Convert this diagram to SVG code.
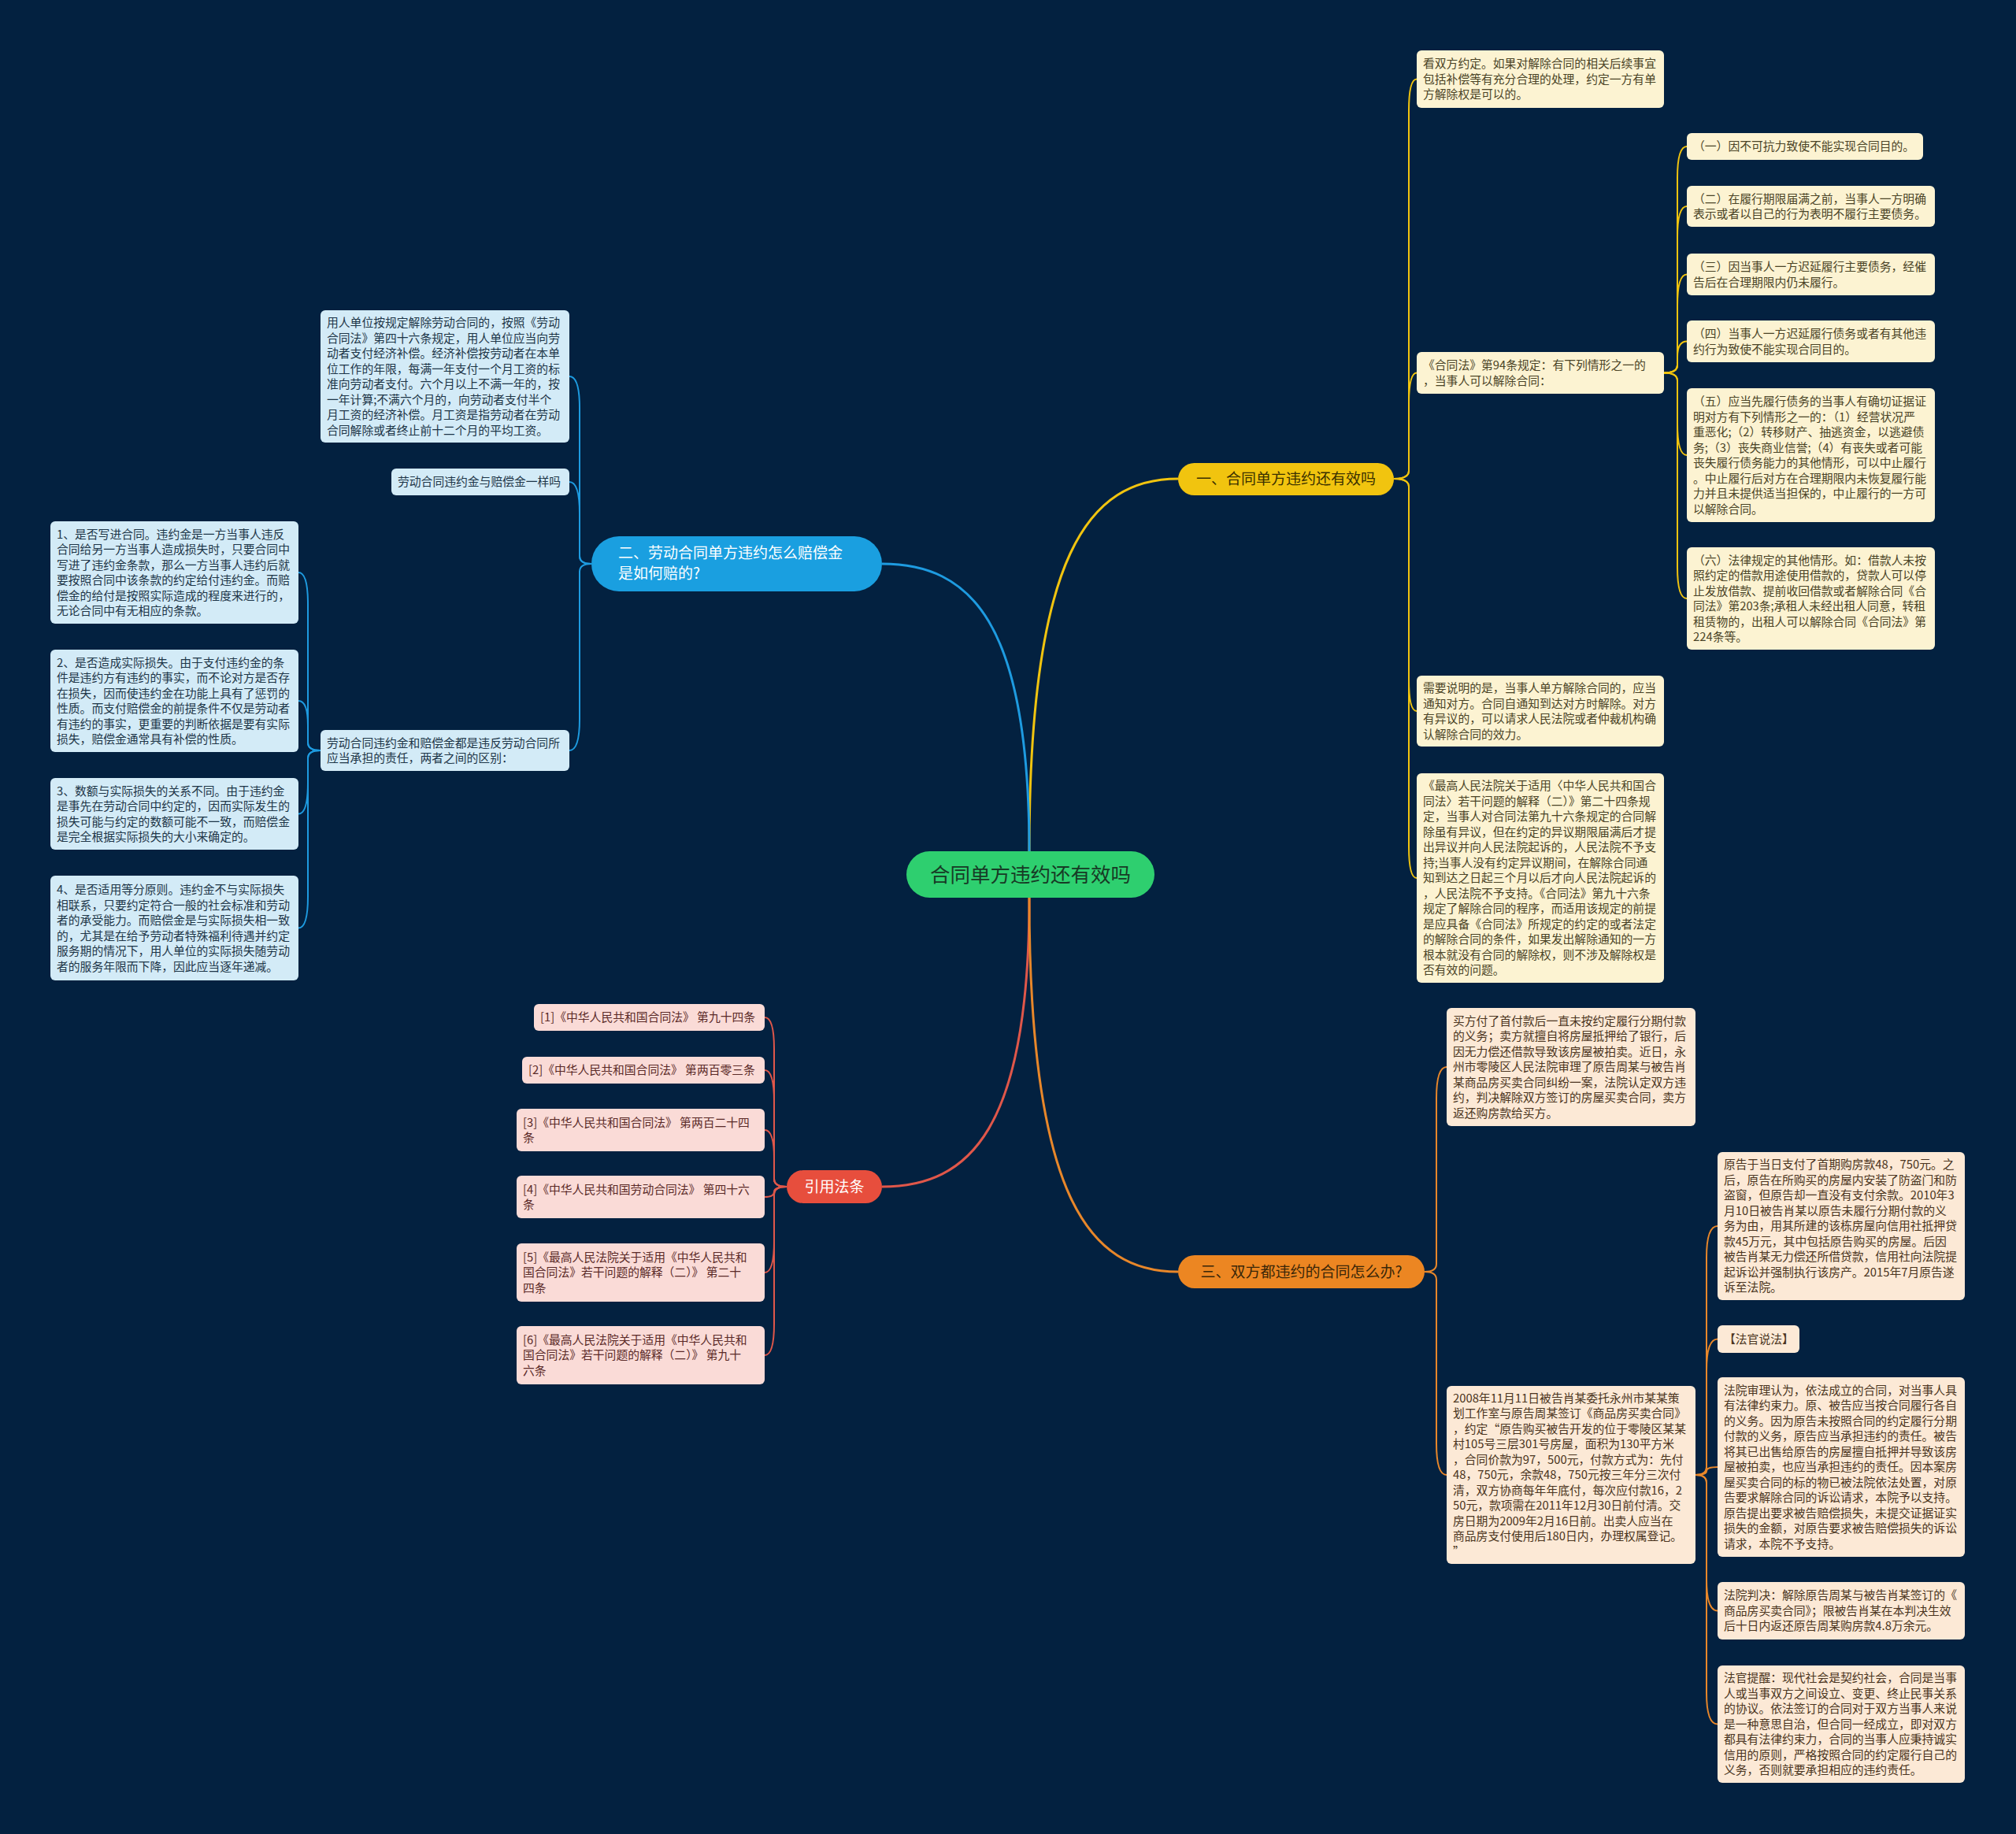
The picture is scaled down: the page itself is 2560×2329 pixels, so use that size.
<svg xmlns="http://www.w3.org/2000/svg" width="2560" height="2329" viewBox="0 0 2560 2329">
<style>
text{font-family:"Noto Sans CJK SC","Noto Sans",sans-serif}
.t{font-size:14.8px}
.ty{fill:#4a4326}.tb{fill:#1d3547}.tr{fill:#5a2a28}.to{fill:#4a3420}
.by{fill:#fcf3d2}.bb{fill:#d3ebf7}.br{fill:#fadbd7}.bo{fill:#fce9d6}
.cy{fill:none;stroke:#f1c40f;stroke-width:2}
.cb{fill:none;stroke:#1e9be0;stroke-width:2}
.cr{fill:none;stroke:#e0574a;stroke-width:2}
.co{fill:none;stroke:#e8872a;stroke-width:2}
.main{stroke-width:3}
.pt{font-size:19px}
</style>
<rect x="0" y="0" width="2560" height="2329" fill="#032140"/>
<g id="connectors">
<path class="cy main" d="M 1307 1081 C 1307 703, 1383 608, 1496 608"/>
<path class="cb main" d="M 1307 1081 C 1307 789, 1232 716, 1120 716"/>
<path class="cr main" d="M 1307 1140 C 1307 1433, 1232 1507, 1120 1507"/>
<path class="co main" d="M 1307 1140 C 1307 1520, 1383 1615, 1496 1615"/>
<path class="cy" d="M 1770 608 Q 1789 608 1789 598 V 140.5 Q 1789 100.5 1799 100.5"/>
<path class="cy" d="M 1770 608 Q 1789 608 1789 598 V 513.5 Q 1789 473.5 1799 473.5"/>
<path class="cy" d="M 1770 608 Q 1789 608 1789 618 V 863 Q 1789 903 1799 903"/>
<path class="cy" d="M 1770 608 Q 1789 608 1789 618 V 1075 Q 1789 1115 1799 1115"/>
<path class="cy" d="M 2113 473.5 Q 2130 473.5 2130 463.5 V 226 Q 2130 186 2142 186"/>
<path class="cy" d="M 2113 473.5 Q 2130 473.5 2130 463.5 V 302 Q 2130 262 2142 262"/>
<path class="cy" d="M 2113 473.5 Q 2130 473.5 2130 463.5 V 388.5 Q 2130 348.5 2142 348.5"/>
<path class="cy" d="M 2113 473.5 Q 2130 473.5 2130 463.5 V 453.5 Q 2130 433.5 2142 433.5"/>
<path class="cy" d="M 2113 473.5 Q 2130 473.5 2130 483.5 V 538 Q 2130 578 2142 578"/>
<path class="cy" d="M 2113 473.5 Q 2130 473.5 2130 483.5 V 720 Q 2130 760 2142 760"/>
<path class="cb" d="M 751 716 Q 736 716 736 706 V 518 Q 736 478 723 478"/>
<path class="cb" d="M 751 716 Q 736 716 736 706 V 652 Q 736 612 723 612"/>
<path class="cb" d="M 751 716 Q 736 716 736 726 V 913 Q 736 953 723 953"/>
<path class="cb" d="M 407 953 Q 391 953 391 943 V 767 Q 391 727 379 727"/>
<path class="cb" d="M 407 953 Q 391 953 391 943 V 921.5 Q 391 890 379 890"/>
<path class="cb" d="M 407 953 Q 391 953 391 963 V 993.5 Q 391 1033.5 379 1033.5"/>
<path class="cb" d="M 407 953 Q 391 953 391 963 V 1138.5 Q 391 1178.5 379 1178.5"/>
<path class="cr" d="M 999 1507 Q 983 1507 983 1497 V 1332 Q 983 1292 971 1292"/>
<path class="cr" d="M 999 1507 Q 983 1507 983 1497 V 1399 Q 983 1359 971 1359"/>
<path class="cr" d="M 999 1507 Q 983 1507 983 1497 V 1471 Q 983 1435 971 1435"/>
<path class="cr" d="M 999 1507 Q 983 1507 983 1513.5 Q 983 1520 971 1520"/>
<path class="cr" d="M 999 1507 Q 983 1507 983 1517 V 1576 Q 983 1616 971 1616"/>
<path class="cr" d="M 999 1507 Q 983 1507 983 1517 V 1681 Q 983 1721 971 1721"/>
<path class="co" d="M 1809 1615 Q 1824 1615 1824 1605 V 1395 Q 1824 1355 1837 1355"/>
<path class="co" d="M 1809 1615 Q 1824 1615 1824 1625 V 1833 Q 1824 1873 1837 1873"/>
<path class="co" d="M 2153 1873 Q 2167 1873 2167 1863 V 1597 Q 2167 1557 2181 1557"/>
<path class="co" d="M 2153 1873 Q 2167 1873 2167 1863 V 1740.5 Q 2167 1700.5 2181 1700.5"/>
<path class="co" d="M 2153 1873 Q 2167 1873 2167 1868 Q 2167 1863 2181 1863"/>
<path class="co" d="M 2153 1873 Q 2167 1873 2167 1883 V 2005.5 Q 2167 2045.5 2181 2045.5"/>
<path class="co" d="M 2153 1873 Q 2167 1873 2167 1883 V 2149.5 Q 2167 2189.5 2181 2189.5"/>
</g>

<g id="root">
<rect x="1151" y="1081" width="315" height="59" rx="29.5" fill="#2ecf6f"/>
<text x="1308.5" y="1119.5" font-size="25.5" text-anchor="middle" fill="#173a25">合同单方违约还有效吗</text>
</g>

<g id="branch1">
<rect x="1496" y="588" width="274" height="41" rx="20.5" fill="#f1c40f"/>
<text class="pt" x="1633" y="615" text-anchor="middle" fill="#3a3000">一、合同单方违约还有效吗</text>
</g>
<g id="branch2">
<rect x="751" y="681" width="369" height="70" rx="35" fill="#1a9fe0"/>
<text class="pt" x="785" y="709" fill="#ffffff"><tspan x="785">二、劳动合同单方违约怎么赔偿金</tspan><tspan x="785" dy="26">是如何赔的?</tspan></text>
</g>
<g id="branch3">
<rect x="1496" y="1594" width="313" height="42" rx="21" fill="#ec8622"/>
<text class="pt" x="1652.5" y="1622" text-anchor="middle" fill="#3a2608">三、双方都违约的合同怎么办?</text>
</g>
<g id="branch4">
<rect x="999" y="1486" width="121" height="42" rx="21" fill="#e74e3d"/>
<text class="pt" x="1059.5" y="1514" text-anchor="middle" fill="#ffffff">引用法条</text>
</g>

<g id="c1"><rect class="by" x="1799" y="64" width="314" height="73" rx="6"/>
<text class="t ty" y="86.2"><tspan x="1807">看双方约定。如果对解除合同的相关后续事宜</tspan><tspan x="1807" dy="19.5">包括补偿等有充分合理的处理，约定一方有单</tspan><tspan x="1807" dy="19.5">方解除权是可以的。</tspan></text></g>
<g id="c2"><rect class="by" x="1799" y="447" width="314" height="53" rx="6"/>
<text class="t ty" y="469"><tspan x="1807">《合同法》第94条规定：有下列情形之一的</tspan><tspan x="1807" dy="19.5">，当事人可以解除合同：</tspan></text></g>
<g id="c3"><rect class="by" x="1799" y="858" width="314" height="90" rx="6"/>
<text class="t ty" y="879"><tspan x="1807">需要说明的是，当事人单方解除合同的，应当</tspan><tspan x="1807" dy="19.5">通知对方。合同自通知到达对方时解除。对方</tspan><tspan x="1807" dy="19.5">有异议的，可以请求人民法院或者仲裁机构确</tspan><tspan x="1807" dy="19.5">认解除合同的效力。</tspan></text></g>
<g id="c4"><rect class="by" x="1799" y="982" width="314" height="266" rx="6"/>
<text class="t ty" y="1003.2"><tspan x="1807">《最高人民法院关于适用〈中华人民共和国合</tspan><tspan x="1807" dy="19.5">同法〉若干问题的解释（二）》第二十四条规</tspan><tspan x="1807" dy="19.5">定，当事人对合同法第九十六条规定的合同解</tspan><tspan x="1807" dy="19.5">除虽有异议，但在约定的异议期限届满后才提</tspan><tspan x="1807" dy="19.5">出异议并向人民法院起诉的，人民法院不予支</tspan><tspan x="1807" dy="19.5">持;当事人没有约定异议期间，在解除合同通</tspan><tspan x="1807" dy="19.5">知到达之日起三个月以后才向人民法院起诉的</tspan><tspan x="1807" dy="19.5">，人民法院不予支持。《合同法》第九十六条</tspan><tspan x="1807" dy="19.5">规定了解除合同的程序，而适用该规定的前提</tspan><tspan x="1807" dy="19.5">是应具备《合同法》所规定的约定的或者法定</tspan><tspan x="1807" dy="19.5">的解除合同的条件，如果发出解除通知的一方</tspan><tspan x="1807" dy="19.5">根本就没有合同的解除权，则不涉及解除权是</tspan><tspan x="1807" dy="19.5">否有效的问题。</tspan></text></g>

<g id="s1"><rect class="by" x="2142" y="169" width="300" height="34" rx="6"/>
<text class="t ty" y="191.2"><tspan x="2150">（一）因不可抗力致使不能实现合同目的。</tspan></text></g>
<g id="s2"><rect class="by" x="2142" y="236" width="315" height="52" rx="6"/>
<text class="t ty" y="257.5"><tspan x="2150">（二）在履行期限届满之前，当事人一方明确</tspan><tspan x="2150" dy="19.5">表示或者以自己的行为表明不履行主要债务。</tspan></text></g>
<g id="s3"><rect class="by" x="2142" y="322" width="315" height="53" rx="6"/>
<text class="t ty" y="344"><tspan x="2150">（三）因当事人一方迟延履行主要债务，经催</tspan><tspan x="2150" dy="19.5">告后在合理期限内仍未履行。</tspan></text></g>
<g id="s4"><rect class="by" x="2142" y="407" width="315" height="53" rx="6"/>
<text class="t ty" y="429"><tspan x="2150">（四）当事人一方迟延履行债务或者有其他违</tspan><tspan x="2150" dy="19.5">约行为致使不能实现合同目的。</tspan></text></g>
<g id="s5"><rect class="by" x="2142" y="493" width="315" height="170" rx="6"/>
<text class="t ty" y="515"><tspan x="2150">（五）应当先履行债务的当事人有确切证据证</tspan><tspan x="2150" dy="19.5">明对方有下列情形之一的：（1）经营状况严</tspan><tspan x="2150" dy="19.5">重恶化;（2）转移财产、抽逃资金，以逃避债</tspan><tspan x="2150" dy="19.5">务;（3）丧失商业信誉;（4）有丧失或者可能</tspan><tspan x="2150" dy="19.5">丧失履行债务能力的其他情形，可以中止履行</tspan><tspan x="2150" dy="19.5">。中止履行后对方在合理期限内未恢复履行能</tspan><tspan x="2150" dy="19.5">力并且未提供适当担保的，中止履行的一方可</tspan><tspan x="2150" dy="19.5">以解除合同。</tspan></text></g>
<g id="s6"><rect class="by" x="2142" y="695" width="315" height="130" rx="6"/>
<text class="t ty" y="716.5"><tspan x="2150">（六）法律规定的其他情形。如：借款人未按</tspan><tspan x="2150" dy="19.5">照约定的借款用途使用借款的，贷款人可以停</tspan><tspan x="2150" dy="19.5">止发放借款、提前收回借款或者解除合同《合</tspan><tspan x="2150" dy="19.5">同法》第203条;承租人未经出租人同意，转租</tspan><tspan x="2150" dy="19.5">租赁物的，出租人可以解除合同《合同法》第</tspan><tspan x="2150" dy="19.5">224条等。</tspan></text></g>

<g id="b1"><rect class="bb" x="407" y="394" width="316" height="168" rx="6"/>
<text class="t tb" y="415"><tspan x="415">用人单位按规定解除劳动合同的，按照《劳动</tspan><tspan x="415" dy="19.5">合同法》第四十六条规定，用人单位应当向劳</tspan><tspan x="415" dy="19.5">动者支付经济补偿。经济补偿按劳动者在本单</tspan><tspan x="415" dy="19.5">位工作的年限，每满一年支付一个月工资的标</tspan><tspan x="415" dy="19.5">准向劳动者支付。六个月以上不满一年的，按</tspan><tspan x="415" dy="19.5">一年计算;不满六个月的，向劳动者支付半个</tspan><tspan x="415" dy="19.5">月工资的经济补偿。月工资是指劳动者在劳动</tspan><tspan x="415" dy="19.5">合同解除或者终止前十二个月的平均工资。</tspan></text></g>
<g id="b2"><rect class="bb" x="497" y="595" width="226" height="34" rx="6"/>
<text class="t tb" y="617.2"><tspan x="505">劳动合同违约金与赔偿金一样吗</tspan></text></g>
<g id="b3"><rect class="bb" x="407" y="927" width="316" height="52" rx="6"/>
<text class="t tb" y="948.5"><tspan x="415">劳动合同违约金和赔偿金都是违反劳动合同所</tspan><tspan x="415" dy="19.5">应当承担的责任，两者之间的区别：</tspan></text></g>

<g id="n1"><rect class="bb" x="64" y="662" width="315" height="130" rx="6"/>
<text class="t tb" y="683.5"><tspan x="72">1、是否写进合同。违约金是一方当事人违反</tspan><tspan x="72" dy="19.5">合同给另一方当事人造成损失时，只要合同中</tspan><tspan x="72" dy="19.5">写进了违约金条款，那么一方当事人违约后就</tspan><tspan x="72" dy="19.5">要按照合同中该条款的约定给付违约金。而赔</tspan><tspan x="72" dy="19.5">偿金的给付是按照实际造成的程度来进行的，</tspan><tspan x="72" dy="19.5">无论合同中有无相应的条款。</tspan></text></g>
<g id="n2"><rect class="bb" x="64" y="825" width="315" height="130" rx="6"/>
<text class="t tb" y="846.5"><tspan x="72">2、是否造成实际损失。由于支付违约金的条</tspan><tspan x="72" dy="19.5">件是违约方有违约的事实，而不论对方是否存</tspan><tspan x="72" dy="19.5">在损失，因而使违约金在功能上具有了惩罚的</tspan><tspan x="72" dy="19.5">性质。而支付赔偿金的前提条件不仅是劳动者</tspan><tspan x="72" dy="19.5">有违约的事实，更重要的判断依据是要有实际</tspan><tspan x="72" dy="19.5">损失，赔偿金通常具有补偿的性质。</tspan></text></g>
<g id="n3"><rect class="bb" x="64" y="988" width="315" height="91" rx="6"/>
<text class="t tb" y="1009.5"><tspan x="72">3、数额与实际损失的关系不同。由于违约金</tspan><tspan x="72" dy="19.5">是事先在劳动合同中约定的，因而实际发生的</tspan><tspan x="72" dy="19.5">损失可能与约定的数额可能不一致，而赔偿金</tspan><tspan x="72" dy="19.5">是完全根据实际损失的大小来确定的。</tspan></text></g>
<g id="n4"><rect class="bb" x="64" y="1112" width="315" height="133" rx="6"/>
<text class="t tb" y="1135"><tspan x="72">4、是否适用等分原则。违约金不与实际损失</tspan><tspan x="72" dy="19.5">相联系，只要约定符合一般的社会标准和劳动</tspan><tspan x="72" dy="19.5">者的承受能力。而赔偿金是与实际损失相一致</tspan><tspan x="72" dy="19.5">的，尤其是在给予劳动者特殊福利待遇并约定</tspan><tspan x="72" dy="19.5">服务期的情况下，用人单位的实际损失随劳动</tspan><tspan x="72" dy="19.5">者的服务年限而下降，因此应当逐年递减。</tspan></text></g>

<g id="r1"><rect class="br" x="678" y="1275" width="293" height="34" rx="6"/>
<text class="t tr" y="1297.2"><tspan x="686">[1]《中华人民共和国合同法》 第九十四条</tspan></text></g>
<g id="r2"><rect class="br" x="663" y="1342" width="308" height="34" rx="6"/>
<text class="t tr" y="1364.2"><tspan x="671">[2]《中华人民共和国合同法》 第两百零三条</tspan></text></g>
<g id="r3"><rect class="br" x="656" y="1408" width="315" height="54" rx="6"/>
<text class="t tr" y="1430.5"><tspan x="664">[3]《中华人民共和国合同法》 第两百二十四</tspan><tspan x="664" dy="19.5">条</tspan></text></g>
<g id="r4"><rect class="br" x="656" y="1493" width="315" height="54" rx="6"/>
<text class="t tr" y="1515.5"><tspan x="664">[4]《中华人民共和国劳动合同法》 第四十六</tspan><tspan x="664" dy="19.5">条</tspan></text></g>
<g id="r5"><rect class="br" x="656" y="1579" width="315" height="74" rx="6"/>
<text class="t tr" y="1601.7"><tspan x="664">[5]《最高人民法院关于适用《中华人民共和</tspan><tspan x="664" dy="19.5">国合同法》若干问题的解释（二）》 第二十</tspan><tspan x="664" dy="19.5">四条</tspan></text></g>
<g id="r6"><rect class="br" x="656" y="1684" width="315" height="74" rx="6"/>
<text class="t tr" y="1706.7"><tspan x="664">[6]《最高人民法院关于适用《中华人民共和</tspan><tspan x="664" dy="19.5">国合同法》若干问题的解释（二）》 第九十</tspan><tspan x="664" dy="19.5">六条</tspan></text></g>

<g id="o1"><rect class="bo" x="1837" y="1280" width="316" height="150" rx="6"/>
<text class="t to" y="1301.7"><tspan x="1845">买方付了首付款后一直未按约定履行分期付款</tspan><tspan x="1845" dy="19.5">的义务；卖方就擅自将房屋抵押给了银行，后</tspan><tspan x="1845" dy="19.5">因无力偿还借款导致该房屋被拍卖。近日，永</tspan><tspan x="1845" dy="19.5">州市零陵区人民法院审理了原告周某与被告肖</tspan><tspan x="1845" dy="19.5">某商品房买卖合同纠纷一案，法院认定双方违</tspan><tspan x="1845" dy="19.5">约，判决解除双方签订的房屋买卖合同，卖方</tspan><tspan x="1845" dy="19.5">返还购房款给买方。</tspan></text></g>
<g id="o2"><rect class="bo" x="1837" y="1760" width="316" height="226" rx="6"/>
<text class="t to" y="1780.7"><tspan x="1845">2008年11月11日被告肖某委托永州市某某策</tspan><tspan x="1845" dy="19.5">划工作室与原告周某签订《商品房买卖合同》</tspan><tspan x="1845" dy="19.5">，约定“原告购买被告开发的位于零陵区某某</tspan><tspan x="1845" dy="19.5">村105号三层301号房屋，面积为130平方米</tspan><tspan x="1845" dy="19.5">，合同价款为97，500元，付款方式为：先付</tspan><tspan x="1845" dy="19.5">48，750元，余款48，750元按三年分三次付</tspan><tspan x="1845" dy="19.5">清，双方协商每年年底付，每次应付款16，2</tspan><tspan x="1845" dy="19.5">50元，款项需在2011年12月30日前付清。交</tspan><tspan x="1845" dy="19.5">房日期为2009年2月16日前。出卖人应当在</tspan><tspan x="1845" dy="19.5">商品房支付使用后180日内，办理权属登记。</tspan><tspan x="1845" dy="19.5">”</tspan></text></g>

<g id="p1"><rect class="bo" x="2181" y="1463" width="314" height="188" rx="6"/>
<text class="t to" y="1484.2"><tspan x="2189">原告于当日支付了首期购房款48，750元。之</tspan><tspan x="2189" dy="19.5">后，原告在所购买的房屋内安装了防盗门和防</tspan><tspan x="2189" dy="19.5">盗窗，但原告却一直没有支付余款。2010年3</tspan><tspan x="2189" dy="19.5">月10日被告肖某以原告未履行分期付款的义</tspan><tspan x="2189" dy="19.5">务为由，用其所建的该栋房屋向信用社抵押贷</tspan><tspan x="2189" dy="19.5">款45万元，其中包括原告购买的房屋。后因</tspan><tspan x="2189" dy="19.5">被告肖某无力偿还所借贷款，信用社向法院提</tspan><tspan x="2189" dy="19.5">起诉讼并强制执行该房产。2015年7月原告遂</tspan><tspan x="2189" dy="19.5">诉至法院。</tspan></text></g>
<g id="p2"><rect class="bo" x="2181" y="1683" width="104" height="35" rx="6"/>
<text class="t to" y="1705.7"><tspan x="2189">【法官说法】</tspan></text></g>
<g id="p3"><rect class="bo" x="2181" y="1749" width="314" height="228" rx="6"/>
<text class="t to" y="1770.7"><tspan x="2189">法院审理认为，依法成立的合同，对当事人具</tspan><tspan x="2189" dy="19.5">有法律约束力。原、被告应当按合同履行各自</tspan><tspan x="2189" dy="19.5">的义务。因为原告未按照合同的约定履行分期</tspan><tspan x="2189" dy="19.5">付款的义务，原告应当承担违约的责任。被告</tspan><tspan x="2189" dy="19.5">将其已出售给原告的房屋擅自抵押并导致该房</tspan><tspan x="2189" dy="19.5">屋被拍卖，也应当承担违约的责任。因本案房</tspan><tspan x="2189" dy="19.5">屋买卖合同的标的物已被法院依法处置，对原</tspan><tspan x="2189" dy="19.5">告要求解除合同的诉讼请求，本院予以支持。</tspan><tspan x="2189" dy="19.5">原告提出要求被告赔偿损失，未提交证据证实</tspan><tspan x="2189" dy="19.5">损失的金额，对原告要求被告赔偿损失的诉讼</tspan><tspan x="2189" dy="19.5">请求，本院不予支持。</tspan></text></g>
<g id="p4"><rect class="bo" x="2181" y="2009" width="314" height="73" rx="6"/>
<text class="t to" y="2031.2"><tspan x="2189">法院判决：解除原告周某与被告肖某签订的《</tspan><tspan x="2189" dy="19.5">商品房买卖合同》；限被告肖某在本判决生效</tspan><tspan x="2189" dy="19.5">后十日内返还原告周某购房款4.8万余元。</tspan></text></g>
<g id="p5"><rect class="bo" x="2181" y="2115" width="314" height="149" rx="6"/>
<text class="t to" y="2136.2"><tspan x="2189">法官提醒：现代社会是契约社会，合同是当事</tspan><tspan x="2189" dy="19.5">人或当事双方之间设立、变更、终止民事关系</tspan><tspan x="2189" dy="19.5">的协议。依法签订的合同对于双方当事人来说</tspan><tspan x="2189" dy="19.5">是一种意思自治，但合同一经成立，即对双方</tspan><tspan x="2189" dy="19.5">都具有法律约束力，合同的当事人应秉持诚实</tspan><tspan x="2189" dy="19.5">信用的原则，严格按照合同的约定履行自己的</tspan><tspan x="2189" dy="19.5">义务，否则就要承担相应的违约责任。</tspan></text></g>
</svg>
